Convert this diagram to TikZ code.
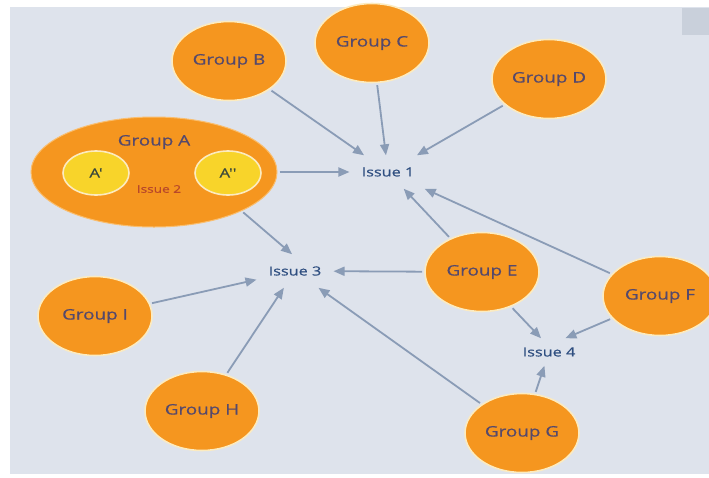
\documentclass[tikz,border=0pt]{standalone}
\usepackage{fontspec}
\newfontfamily\gfont[FakeStretch=1.3,FakeBold=0.5]{Open Sans}
\usetikzlibrary{shapes.geometric,arrows.meta}
\definecolor{bg}{HTML}{DEE3EC}
\definecolor{org}{HTML}{F5961F}
\definecolor{rim}{HTML}{FCEBC0}
\definecolor{yel}{HTML}{F8D42A}
\definecolor{gtxt}{HTML}{55496C}
\definecolor{itxt}{HTML}{2E4E80}
\definecolor{arrc}{HTML}{8A9CB6}
\definecolor{i2c}{HTML}{B8482A}
\definecolor{atxt}{HTML}{3D4A3A}
\definecolor{tab}{HTML}{C9D0DB}
\definecolor{arim}{HTML}{FABE6E}
\tikzset{
  grp/.style={ellipse,fill=org,draw=rim,line width=1.6pt,minimum width=114pt,minimum height=79pt,inner sep=0pt,text=gtxt,font=\gfont\fontsize{14.5}{16}\selectfont},
  sub/.style={ellipse,fill=yel,draw=rim,line width=1.6pt,minimum width=66pt,minimum height=44pt,inner sep=0pt,text=atxt,font=\gfont\fontsize{13}{15}\selectfont},
  iss/.style={text=itxt,inner xsep=12pt,inner ysep=12pt,font=\gfont\fontsize{12.5}{14}\selectfont},
  arr/.style={draw=arrc,line width=1.8pt,-{Triangle[length=11pt,width=9pt]},shorten <=2pt}
}
\begin{document}
\begin{tikzpicture}[x=1pt,y=-1pt]
\useasboundingbox (0,0) rectangle (709,477);
\fill[white] (0,0) rectangle (709,477);
\fill[bg] (10,7) rectangle (709,474);
\fill[tab] (682,8) rectangle (709,35);
% Group A
\node[ellipse,fill=org,draw=arim,line width=1pt,minimum width=246pt,minimum height=110pt,inner sep=0pt] (A) at (154,172) {};
\node[text=gtxt,font=\gfont\fontsize{14.5}{16}\selectfont] (Al) at (154,142) {Group A};
\node[sub] (A1) at (96,173) {A'};
\node[sub] (A2) at (228,173) {A''};
\node[text=i2c,font=\gfont\fontsize{10.5}{12}\selectfont] (I2) at (159,189) {Issue 2};
% Groups
\node[grp] (B) at (229,61) {Group B};
\node[grp] (C) at (372,43) {Group C};
\node[grp] (D) at (549,79) {Group D};
\node[grp] (E) at (482,272) {Group E};
\node[grp] (F) at (660,296) {Group F};
\node[grp] (I) at (95,316) {Group I};
\node[grp] (H) at (202,411) {Group H};
\node[grp] (G) at (522,433) {Group G};
% Issues
\node[iss] (I1) at (388,172) {Issue 1};
\node[iss] (I3) at (295,271) {Issue 3};
\node[iss,inner ysep=9pt] (I4) at (549,352) {Issue 4};
% Arrows
\draw[arr] (B) -- (I1);
\draw[arr] (C) -- (I1);
\draw[arr] (D) -- (I1);
\draw[arr] (A) -- (I1);
\draw[arr] (E) -- (I1);
\draw[arr] (F) -- (I1);
\draw[arr] (A.-24) -- (I3.100);
\draw[arr] (E) -- (I3);
\draw[arr] (I) -- (I3);
\draw[arr] (H) -- (I3);
\draw[arr] (G) -- (I3);
\draw[arr] (E.-50) -- (I4.120);
\draw[arr] (F.-155) -- (I4.40);
\draw[arr] (G) -- (I4);
\end{tikzpicture}
\end{document}
